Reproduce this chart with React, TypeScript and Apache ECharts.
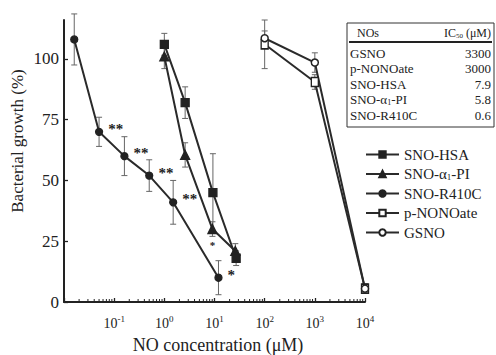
import React, { useEffect, useRef } from "react";
import * as echarts from "echarts";

const FONT = "Liberation Serif";
const INK = "#222";

// SNO-HSA (filled square)
const hsaX = [1, 2.6, 9.3, 27];
const hsaY = [106, 82, 45, 18];
const hsaErr = [4.5, 6.5, 16, 3];

// SNO-α1-PI (filled triangle)
const piX = [1, 2.6, 9.1, 26];
const piY = [101, 60.5, 30, 21];
const piErr = [5, 5, 3, 3];
const piSig = ["", "", "*", ""];

// SNO-R410C (filled circle)
const r410X = [0.016, 0.05, 0.16, 0.5, 1.5, 12];
const r410Y = [108, 70, 60, 52, 41, 10];
const r410Err = [10.5, 6, 8, 6.5, 9, 7];
const r410Sig = ["", "**", "**", "**", "**", "*"];

// p-NONOate (open square)
const nonoX = [100, 1000, 10000];
const nonoY = [106, 90.5, 5.5];
const nonoErr = [10, 3, 2];

// GSNO (open circle)
const gsnoX = [100, 1000, 10000];
const gsnoY = [108.5, 98.5, 5.5];
const gsnoErr = [3, 4, 0];

const yTicks = [0, 25, 50, 75, 100];
const decades = [-2, -1, 0, 1, 2, 3];
const minorMult = [2, 3, 4, 5, 6, 7, 8, 9];

const tableNames = ["GSNO", "p-NONOate", "SNO-HSA", "SNO-α{sub|1}-PI", "SNO-R410C"];
const tableIC50 = ["3300", "3000", "7.9", "5.8", "0.6"];

const legendNames = ["SNO-HSA", "SNO-α1-PI", "SNO-R410C", "p-NONOate", "GSNO"];

export default function App() {
  const ref = useRef<HTMLDivElement>(null);
  useEffect(() => {
    if (!ref.current) return;
    const chart = echarts.init(ref.current, undefined, { renderer: "svg" });

    const minorTicks: number[][] = [];
    decades.forEach((d) => minorMult.forEach((m) => minorTicks.push([m * Math.pow(10, d), 0])));

    const errData: number[][] = [];
    const addErr = (xs: number[], ys: number[], es: number[]) =>
      xs.forEach((x, i) => {
        if (es[i] > 0) errData.push([x, ys[i] - es[i], ys[i] + es[i]]);
      });
    addErr(hsaX, hsaY, hsaErr);
    addErr(piX, piY, piErr);
    addErr(r410X, r410Y, r410Err);
    addErr(nonoX, nonoY, nonoErr);
    addErr(gsnoX, gsnoY, gsnoErr);

    const pts = (xs: number[], ys: number[]) => xs.map((x, i) => [x, ys[i]]);

    const lineBase = {
      type: "line",
      lineStyle: { color: "#2a2a2a", width: 2 },
      itemStyle: { color: INK, borderColor: INK, borderWidth: 1.3 },
      z: 3,
    };

    const sigLabel = (arr: string[], pos: string, offset: number[], size: number) => ({
      show: true,
      position: pos,
      distance: 3,
      offset,
      formatter: (p: any) => arr[p.dataIndex],
      fontFamily: FONT,
      fontSize: size,
      fontWeight: "bold",
      color: INK,
    });

    const option: any = {
      animation: false,
      backgroundColor: "#fff",
      grid: { left: 64, right: 131, top: 20, bottom: 53 },
      legend: {
        orient: "vertical",
        left: 360,
        top: 142,
        itemWidth: 33,
        itemHeight: 8,
        itemGap: 4.5,
        data: legendNames,
        formatter: (n: string) => (n === "SNO-α1-PI" ? "SNO-α{sub|1}-PI" : n),
        textStyle: {
          fontFamily: FONT,
          fontSize: 15,
          color: INK,
          rich: { sub: { fontFamily: FONT, fontSize: 9, color: INK, padding: [6, 0, 0, 0] } },
        },
      },
      xAxis: {
        type: "log",
        logBase: 10,
        min: 0.01,
        max: 10000,
        axisLine: { lineStyle: { color: INK, width: 2 } },
        axisTick: { inside: true, length: 4, lineStyle: { color: INK, width: 1.3 } },
        splitLine: { show: false },
        axisLabel: {
          margin: 12,
          fontFamily: FONT,
          fontSize: 14,
          color: INK,
          formatter: (v: number) => {
            const e = Math.round(Math.log10(v));
            if (e === -2) return "";
            return "10{sup|" + e + "}";
          },
          rich: { sup: { fontFamily: FONT, fontSize: 9, color: INK, padding: [0, 0, 9, 0] } },
        },
      },
      yAxis: {
        type: "value",
        min: 0,
        max: 116,
        axisLine: { show: true, lineStyle: { color: INK, width: 2 } },
        axisTick: { show: true, inside: true, length: 4, customValues: yTicks, lineStyle: { color: INK, width: 1.3 } },
        splitLine: { show: false },
        axisLabel: { customValues: yTicks, margin: 5, fontFamily: FONT, fontSize: 17, color: INK },
      },
      series: [
        {
          type: "custom",
          name: "minor",
          silent: true,
          data: minorTicks,
          renderItem: (params: any, api: any) => {
            const p = api.coord([api.value(0), 0]);
            return {
              type: "line",
              shape: { x1: p[0], y1: p[1], x2: p[0], y2: p[1] - 3 },
              style: { stroke: INK, lineWidth: 1 },
            };
          },
          z: 1,
        },
        {
          type: "custom",
          name: "err",
          silent: true,
          data: errData,
          renderItem: (params: any, api: any) => {
            const lo = api.coord([api.value(0), api.value(1)]);
            const hi = api.coord([api.value(0), api.value(2)]);
            const st = { stroke: "#666", lineWidth: 1 };
            return {
              type: "group",
              children: [
                { type: "line", shape: { x1: lo[0], y1: lo[1], x2: hi[0], y2: hi[1] }, style: st },
                { type: "line", shape: { x1: lo[0] - 3, y1: lo[1], x2: lo[0] + 3, y2: lo[1] }, style: st },
                { type: "line", shape: { x1: hi[0] - 3, y1: hi[1], x2: hi[0] + 3, y2: hi[1] }, style: st },
              ],
            };
          },
          z: 2,
        },
        {
          ...lineBase,
          name: "SNO-HSA",
          data: pts(hsaX, hsaY),
          symbol: "rect",
          symbolSize: 8,
        },
        {
          ...lineBase,
          name: "SNO-α1-PI",
          data: pts(piX, piY),
          symbol: "triangle",
          symbolSize: 9,
          label: sigLabel(piSig, "bottom", [0, 2], 11),
        },
        {
          ...lineBase,
          name: "SNO-R410C",
          data: pts(r410X, r410Y),
          symbol: "circle",
          symbolSize: 7,
          label: sigLabel(r410Sig, "right", [2, -3], 15),
        },
        {
          ...lineBase,
          name: "p-NONOate",
          data: pts(nonoX, nonoY),
          symbol: "rect",
          symbolSize: [7, 9],
          itemStyle: { color: "#fff", borderColor: INK, borderWidth: 1.5 },
        },
        {
          ...lineBase,
          name: "GSNO",
          data: pts(gsnoX, gsnoY),
          symbol: "circle",
          symbolSize: 7,
          itemStyle: { color: "#fff", borderColor: INK, borderWidth: 1.5 },
        },
      ],
      graphic: [
        {
          type: "text",
          x: 17,
          y: 141,
          rotation: Math.PI / 2,
          style: {
            text: "Bacterial growth (%)",
            fontFamily: FONT,
            fontSize: 17,
            fill: INK,
            align: "center",
            verticalAlign: "middle",
          },
        },
        {
          type: "text",
          x: 218,
          y: 345,
          style: {
            text: "NO concentration (μM)",
            fontFamily: FONT,
            fontSize: 18,
            fill: INK,
            align: "center",
            verticalAlign: "middle",
          },
        },
        {
          type: "rect",
          shape: { x: 347, y: 23, width: 147, height: 104 },
          style: { fill: "none", stroke: "#333", lineWidth: 1 },
        },
        {
          type: "line",
          shape: { x1: 349, y1: 42, x2: 492, y2: 42 },
          style: { stroke: "#222", lineWidth: 2 },
        },
        {
          type: "text",
          x: 357,
          y: 33,
          style: { text: "NOs", fontFamily: FONT, fontSize: 12, fill: INK, verticalAlign: "middle" },
        },
        {
          type: "text",
          x: 491,
          y: 33,
          style: {
            text: "IC{sub|50} (μM)",
            fontFamily: FONT,
            fontSize: 12,
            fill: INK,
            align: "right",
            verticalAlign: "middle",
            rich: { sub: { fontFamily: FONT, fontSize: 7, fill: INK, padding: [5, 0, 0, 0] } },
          },
        },
        ...tableNames.map((n, i) => ({
          type: "text",
          x: 350,
          y: 53 + i * 15.5,
          style: {
            text: n,
            fontFamily: FONT,
            fontSize: 13,
            fill: INK,
            verticalAlign: "middle",
            rich: { sub: { fontFamily: FONT, fontSize: 8, fill: INK, padding: [5, 0, 0, 0] } },
          },
        })),
        ...tableIC50.map((v, i) => ({
          type: "text",
          x: 491,
          y: 53 + i * 15.5,
          style: { text: v, fontFamily: FONT, fontSize: 13, fill: INK, align: "right", verticalAlign: "middle" },
        })),
      ],
    };

    chart.setOption(option);
    return () => chart.dispose();
  }, []);

  return <div ref={ref} style={{ position: "absolute", left: 0, top: 0, width: 496, height: 355 }} />;
}
